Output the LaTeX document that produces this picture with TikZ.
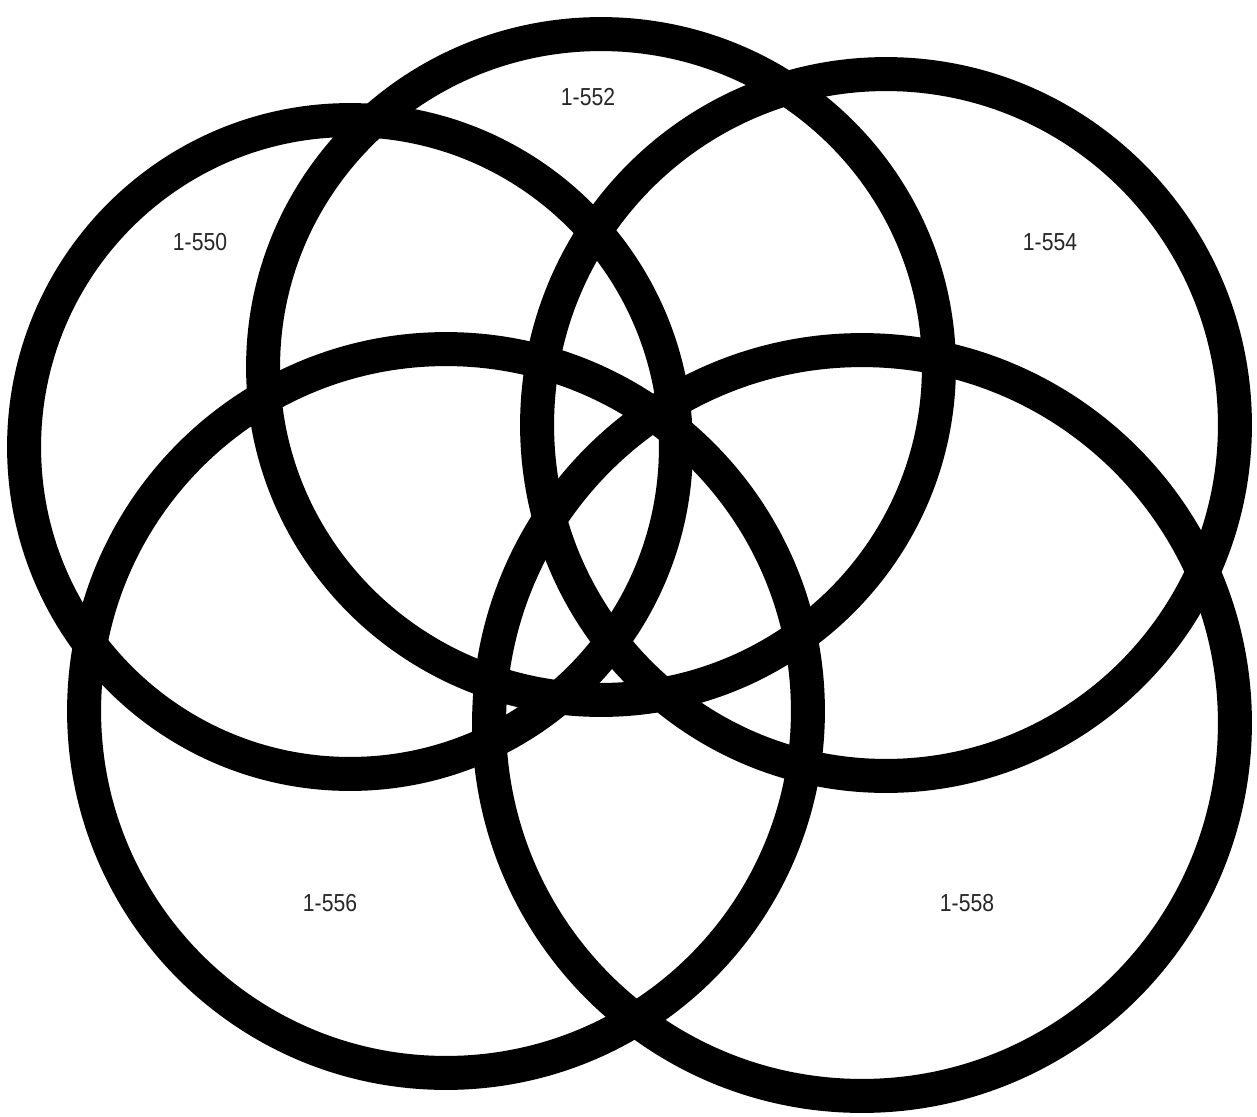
\documentclass[tikz,border=0pt]{standalone}
\usepackage{fontspec}
\setmainfont{Liberation Sans}[FakeStretch=0.86]
\usetikzlibrary{shapes.geometric}
\begin{document}
\begin{tikzpicture}[x=0.02cm,y=-0.02cm,
  ring/.style={draw=black,line width=0.68cm,ellipse,inner sep=0pt,fill=none},
  lbl/.style={font=\fontsize{14}{16}\selectfont,text=black!85,inner sep=0pt}]
\useasboundingbox (0,0) rectangle (1257,1116);
\node[ring,minimum width=13.04cm,minimum height=13.08cm] (c550) at (350,447) {};
\node[ring,minimum width=13.52cm,minimum height=13.32cm] (c552) at (601,367) {};
\node[ring,minimum width=13.96cm,minimum height=14.04cm] (c554) at (886,425) {};
\node[ring,minimum width=14.48cm,minimum height=14.48cm] (c556) at (446,711) {};
\node[ring,minimum width=14.92cm,minimum height=14.92cm] (c558) at (862,723) {};
\node[lbl] (t550) at (200,242) {1-550};
\node[lbl] (t552) at (588,97) {1-552};
\node[lbl] (t554) at (1050,242) {1-554};
\node[lbl] (t556) at (330,903) {1-556};
\node[lbl] (t558) at (967,903) {1-558};
\end{tikzpicture}
\end{document}
